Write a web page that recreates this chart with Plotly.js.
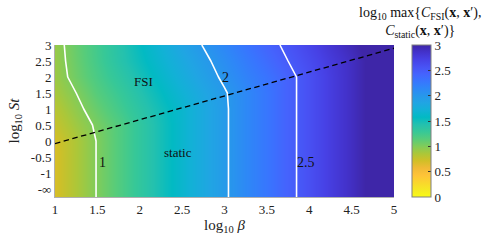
<!DOCTYPE html>
<html>
<head>
<meta charset="utf-8">
<script src="https://cdn.plot.ly/plotly-3.0.1.min.js"></script>
<style>html,body{margin:0;padding:0;background:#fff;}#chart{width:498px;height:248px;}</style>
</head>
<body>
<div id="chart"></div>
<script>
// log10 beta grid (columns)
const logBeta = [1, 1.25, 1.5, 1.75, 2, 2.25, 2.5, 2.75, 3, 3.25, 3.5, 3.75, 4, 4.25, 4.5, 4.75, 5];
// log10 St grid (rows); -1.75 / -1.5 rows stand for St = 0 (-inf)
const logSt = [-1.75, -1.5, -1, -0.5, 0, 0.5, 1, 1.5, 2, 2.5, 3];
// log10 max{C_FSI, C_static}
const zRows = [
  [0.69, 0.85, 1.01, 1.17, 1.33, 1.49, 1.65, 1.81, 1.97, 2.13, 2.28, 2.44, 2.59, 2.75, 2.90, 3.06, 3.21],
  [0.69, 0.85, 1.01, 1.17, 1.33, 1.49, 1.65, 1.81, 1.97, 2.13, 2.28, 2.44, 2.59, 2.75, 2.90, 3.06, 3.21],
  [0.69, 0.85, 1.01, 1.17, 1.33, 1.49, 1.65, 1.81, 1.97, 2.13, 2.28, 2.44, 2.59, 2.75, 2.90, 3.06, 3.21],
  [0.69, 0.85, 1.01, 1.17, 1.33, 1.49, 1.65, 1.81, 1.97, 2.13, 2.28, 2.44, 2.59, 2.75, 2.90, 3.06, 3.21],
  [0.70, 0.85, 1.01, 1.17, 1.33, 1.49, 1.65, 1.81, 1.97, 2.13, 2.28, 2.44, 2.59, 2.75, 2.90, 3.06, 3.21],
  [0.76, 0.90, 1.03, 1.17, 1.33, 1.49, 1.65, 1.81, 1.97, 2.13, 2.28, 2.44, 2.59, 2.75, 2.90, 3.06, 3.21],
  [0.81, 0.95, 1.09, 1.23, 1.37, 1.51, 1.65, 1.81, 1.97, 2.13, 2.28, 2.44, 2.59, 2.75, 2.90, 3.06, 3.21],
  [0.87, 1.00, 1.15, 1.28, 1.42, 1.56, 1.70, 1.84, 1.98, 2.13, 2.28, 2.44, 2.59, 2.75, 2.90, 3.06, 3.21],
  [0.91, 1.06, 1.20, 1.34, 1.48, 1.62, 1.76, 1.90, 2.04, 2.18, 2.30, 2.44, 2.59, 2.75, 2.90, 3.06, 3.21],
  [0.92, 1.08, 1.23, 1.39, 1.53, 1.67, 1.81, 1.95, 2.09, 2.23, 2.36, 2.50, 2.63, 2.77, 2.90, 3.06, 3.21],
  [0.93, 1.09, 1.24, 1.40, 1.56, 1.71, 1.87, 2.01, 2.15, 2.29, 2.42, 2.55, 2.68, 2.82, 2.95, 3.09, 3.22]
];
// contour levels drawn
const contourLevels = [1, 2, 2.5];
const contourLabels = ['1', '2', '2.5'];
const contourLabelBeta = [1.555, 3.01, 3.96];
const contourLabelSt = [-0.68, 1.98, -0.68];
// FSI / static boundary (dashed)
const boundaryBeta = [1, 5];
const boundaryLogSt = [-0.08, 2.9];
// region labels
const regionLabels = ['FSI', 'static'];
const regionBeta = [2.04, 2.45];
const regionSt = [1.87, -0.36];
// ticks
const xTickVals = [1, 1.5, 2, 2.5, 3, 3.5, 4, 4.5, 5];
const xTickText = ['1', '1.5', '2', '2.5', '3', '3.5', '4', '4.5', '5'];
const yTickVals = [-1.5, -1, -0.5, 0, 0.5, 1, 1.5, 2, 2.5, 3];
const yTickText = ['-∞', '-1', '-0.5', '0', '0.5', '1', '1.5', '2', '2.5', '3'];
const cbTickVals = [0, 0.5, 1, 1.5, 2, 2.5, 3];
const cbTickText = ['0', '0.5', '1', '1.5', '2', '2.5', '3'];

// parula colour map samples (dark blue -> yellow); reversed so value 0 -> yellow
const parula = [
  [62,38,168],[67,50,203],[71,65,229],[72,82,244],[69,99,253],[56,117,254],[46,135,247],
  [39,151,235],[32,165,227],[18,177,214],[2,186,195],[36,193,174],[55,200,151],[87,204,122],
  [129,204,89],[171,199,57],[209,191,39],[240,186,54],[254,195,56],[250,214,45],[245,233,36],[249,251,21]
];
const n = parula.length - 1;
const colorscale = parula.slice().reverse().map((c, i) => [i / n, 'rgb(' + c.join(',') + ')']);

const FONT = 'Liberation Serif, Times New Roman, serif';

const traces = [{
  type: 'heatmap',
  x: logBeta, y: logSt, z: zRows,
  zmin: 0, zmax: 3, zsmooth: 'best',
  colorscale: colorscale,
  hoverinfo: 'skip',
  colorbar: {
    x: 1.054, xanchor: 'left', xpad: 0, ypad: 0,
    y: 0.5, yanchor: 'middle', len: 1.0, lenmode: 'fraction',
    thickness: 19, outlinewidth: 1, outlinecolor: '#808080',
    tickvals: cbTickVals, ticktext: cbTickText,
    ticks: 'inside', ticklen: 3, tickcolor: '#333',
    tickfont: {family: FONT, size: 13, color: '#222'}
  }
}];

contourLevels.forEach(lv => {
  traces.push({
    type: 'contour', x: logBeta, y: logSt, z: zRows,
    contours: {type: 'constraint', operation: '=', value: lv},
    fillcolor: 'rgba(0,0,0,0)',
    line: {color: 'white', width: 1.6, smoothing: 0},
    showscale: false, showlegend: false, hoverinfo: 'skip'
  });
});

traces.push({
  type: 'scatter', mode: 'lines', x: boundaryBeta, y: boundaryLogSt,
  line: {color: 'black', width: 1.3, dash: '5.5px,3.5px'},
  showlegend: false, hoverinfo: 'skip'
});

const annotations = [];
contourLabels.forEach((t, i) => annotations.push({
  x: contourLabelBeta[i], y: contourLabelSt[i], xref: 'x', yref: 'y', text: t,
  showarrow: false, font: {family: FONT, size: 14, color: '#111'}
}));
regionLabels.forEach((t, i) => annotations.push({
  x: regionBeta[i], y: regionSt[i], xref: 'x', yref: 'y', text: t,
  showarrow: false, font: {family: FONT, size: 13, color: '#111'}
}));
annotations.push({
  xref: 'paper', yref: 'paper', x: 1.078, y: 1.15, xanchor: 'center', yanchor: 'middle',
  showarrow: false, align: 'center',
  text: 'log<sub>10</sub> max{<i>C</i><sub>FSI</sub>(<b>x</b>, <b>x</b>′),<br><i>C</i><sub>static</sub>(<b>x</b>, <b>x</b>′)}',
  font: {family: FONT, size: 14, color: '#111'}
});

const layout = {
  width: 498, height: 248,
  margin: {l: 55, r: 104, t: 45, b: 51, pad: 0},
  paper_bgcolor: 'white', plot_bgcolor: 'white',
  showlegend: false,
  xaxis: {
    range: [1, 5], tickvals: xTickVals, ticktext: xTickText,
    showgrid: false, zeroline: false, showline: true, linecolor: '#b0b0b0', linewidth: 1,
    ticks: '', tickfont: {family: FONT, size: 13, color: '#222'},
    title: {text: 'log<sub>10</sub> <i>β</i>', font: {family: FONT, size: 15, color: '#222'}, standoff: 3}
  },
  yaxis: {
    range: [-1.75, 3], tickvals: yTickVals, ticktext: yTickText,
    showgrid: false, zeroline: false, showline: true, linecolor: '#b0b0b0', linewidth: 1,
    ticks: '', tickfont: {family: FONT, size: 13, color: '#222'},
    title: {text: 'log<sub>10</sub> <i>St</i>', font: {family: FONT, size: 15, color: '#222'}, standoff: 7}
  },
  annotations: annotations
};

Plotly.newPlot('chart', traces, layout, {staticPlot: true, displayModeBar: false});
</script>
</body>
</html>
